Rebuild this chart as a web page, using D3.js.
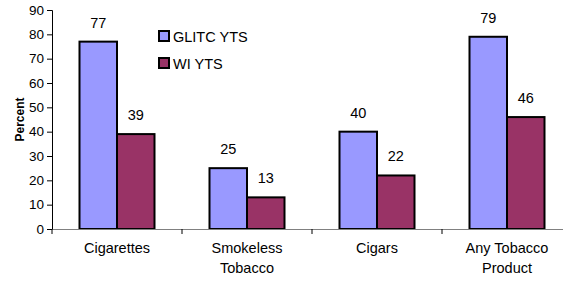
<!DOCTYPE html>
<html>
<head>
	<meta charset="utf-8">
	<title>Tobacco use bar chart</title>
	<script src="https://d3js.org/d3.v7.min.js"></script>
	<style>
		body { margin: 0; padding: 0; background: #fff; }
		svg { display: block; font-family: Arial, "Liberation Sans", sans-serif; }
		.tick text { font-size: 13.5px; fill: #000; }
	</style>
</head>
<body>
	<div id="graph"></div>
	<script>
		// data
		var categories = [["Cigarettes"], ["Smokeless", "Tobacco"], ["Cigars"], ["Any Tobacco", "Product"]];
		var seriesNames = ["GLITC YTS", "WI YTS"];
		var glitc = [77, 25, 40, 79];
		var wi = [39, 13, 22, 46];
		var yTicks = [0, 10, 20, 30, 40, 50, 60, 70, 80, 90];
		var colors = ["#9999ff", "#993366"];

		var width = 563, height = 281;
		var margin = { top: 10, left: 52, bottom: 52 };
		var plotW = 520; // the last category runs past the window edge
		var plotH = height - margin.top - margin.bottom;

		var svg = d3.select("#graph").append("svg")
			.attr("width", width)
			.attr("height", height);

		var g = svg.append("g")
			.attr("transform", "translate(" + margin.left + "," + margin.top + ")");

		var x = d3.scaleBand()
			.domain(d3.range(categories.length))
			.range([0, plotW])
			.paddingInner(0)
			.paddingOuter(0);

		var inner = d3.scaleBand()
			.domain([0, 1])
			.range([27.5, x.bandwidth() - 27.5]);

		var y = d3.scaleLinear().domain([0, 90]).range([plotH, 0]);

		// y axis
		var yAxis = g.append("g")
			.call(d3.axisLeft(y).tickValues(yTicks).tickSize(5).tickPadding(3));
		yAxis.select(".domain").attr("stroke", "#000");
		yAxis.selectAll(".tick line").attr("stroke", "#000");

		// bars
		var rows = categories.map(function (c, i) { return [glitc[i], wi[i]]; });
		var groups = g.selectAll(".cat")
			.data(rows)
			.enter().append("g")
			.attr("transform", function (d, i) { return "translate(" + x(i) + ",0)"; });

		groups.selectAll("rect")
			.data(function (d) { return d; })
			.enter().append("rect")
			.attr("x", function (d, j) { return inner(j); })
			.attr("y", function (d) { return y(d); })
			.attr("width", inner.bandwidth())
			.attr("height", function (d) { return plotH - y(d); })
			.attr("fill", function (d, j) { return colors[j]; })
			.attr("stroke", "#000")
			.attr("stroke-width", 2);

		groups.selectAll(".val")
			.data(function (d) { return d; })
			.enter().append("text")
			.attr("x", function (d, j) { return inner(j) + inner.bandwidth() / 2; })
			.attr("y", function (d) { return y(d) - 14; })
			.attr("text-anchor", "middle")
			.style("font-size", "14.5px")
			.text(function (d) { return d; });

		// x axis
		var xAxis = g.append("g")
			.attr("transform", "translate(0," + plotH + ")")
			.call(d3.axisBottom(x).tickValues([]).tickSizeOuter(0));
		xAxis.select(".domain").attr("stroke", "#808080");
		xAxis.selectAll(".sep")
			.data(d3.range(categories.length + 1))
			.enter().append("line")
			.attr("x1", function (d) { return d * x.step(); })
			.attr("x2", function (d) { return d * x.step(); })
			.attr("y1", 0).attr("y2", 5)
			.attr("stroke", "#000");

		var labels = xAxis.selectAll(".lab")
			.data(categories)
			.enter().append("text")
			.attr("x", function (d, i) { return x(i) + x.bandwidth() / 2; })
			.attr("y", 24)
			.attr("text-anchor", "middle")
			.style("font-size", "14.5px")
			.attr("fill", "#000");
		labels.selectAll("tspan")
			.data(function (d) { return d; })
			.enter().append("tspan")
			.attr("x", function () { return this.parentNode.getAttribute("x"); })
			.attr("dy", function (d, k) { return k === 0 ? 0 : 20; })
			.text(function (d) { return d; });

		// y axis title
		svg.append("text")
			.attr("transform", "translate(24," + (margin.top + plotH / 2) + ") rotate(-90)")
			.attr("text-anchor", "middle")
			.style("font-size", "12px")
			.style("font-weight", "bold")
			.text("Percent");

		// legend
		var legend = svg.append("g").attr("transform", "translate(159,31)");
		var item = legend.selectAll(".item")
			.data(seriesNames)
			.enter().append("g")
			.attr("transform", function (d, i) { return "translate(0," + i * 27 + ")"; });
		item.append("rect")
			.attr("width", 10).attr("height", 10)
			.attr("fill", function (d, i) { return colors[i]; })
			.attr("stroke", "#000")
			.attr("stroke-width", 2);
		item.append("text")
			.attr("x", 14)
			.attr("y", 10.5)
			.style("font-size", "14.5px")
			.text(function (d) { return d; });
	</script>
</body>
</html>
